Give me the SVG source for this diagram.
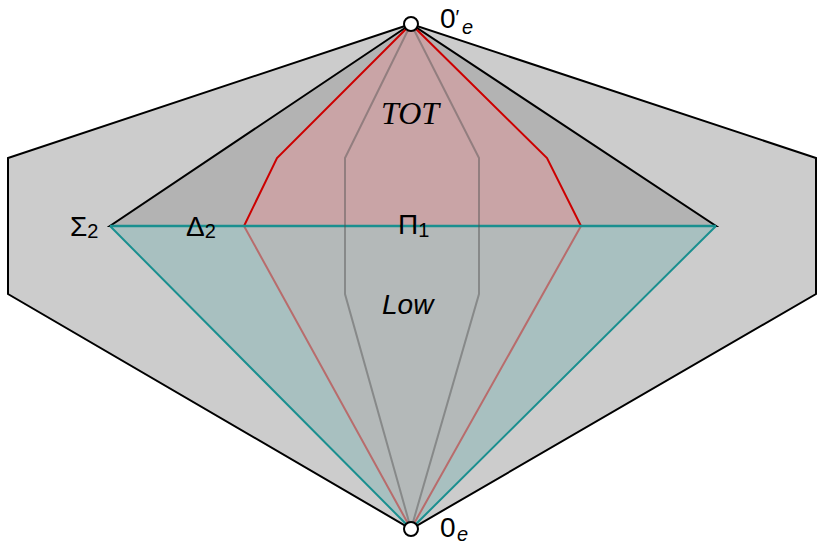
<svg xmlns="http://www.w3.org/2000/svg" width="818" height="545" viewBox="0 0 818 545">
<style>
.lbl{font-family:"Liberation Sans",Arial,sans-serif;font-size:28px;fill:#000}
.sub{font-size:20px}
.it{font-style:italic}
</style>
<rect width="818" height="545" fill="#ffffff"/>
<g id="outer">
<polygon points="411,24 8,158 8,294 411,529 816,294 816,158" fill="#cccccc" stroke="#000" stroke-width="2" stroke-linejoin="miter"/>
</g>
<g id="sigma2">
<polygon points="411,24 110,226 716,226" fill="#b3b3b3" stroke="#000" stroke-width="2"/>
<polygon points="110,226 716,226 411,529" fill="#a8c0c0"/>
</g>
<g id="tot">
<polygon points="411,24 277,158 244,226 581,226 547,158" fill="#c9a4a6" stroke="#cc0000" stroke-width="2"/>
</g>
<g id="low">
<polygon points="244,226 581,226 411,529" fill="#b4b9b9"/>
</g>
<g id="connectors" fill="none">
<polyline points="244,226 411,529 581,226" stroke="#b86c6c" stroke-width="2"/>
<polyline points="110,226 411,529 716,226" stroke="#1a8f8f" stroke-width="2"/>
<line x1="110" y1="226" x2="716" y2="226" stroke="#1a8f8f" stroke-width="2.5"/>
<polygon points="411,24 345,158 345,294 411,529 479,294 479,158" stroke="#505050" stroke-opacity="0.45" stroke-width="2"/>
</g>
<g id="n0e_top">
<circle cx="411" cy="24" r="7" fill="#fff" stroke="#000" stroke-width="2"/>
<text class="lbl" x="440" y="28">0<tspan font-size="20" dx="0" dy="-4">′</tspan></text>
<text class="lbl it sub" x="462" y="34">e</text>
</g>
<g id="n0e_bottom">
<circle cx="411" cy="529" r="7" fill="#fff" stroke="#000" stroke-width="2"/>
<text class="lbl" x="440" y="537">0</text>
<text class="lbl it sub" x="457" y="541">e</text>
</g>
<g id="labels">
<text class="lbl" x="70" y="236">Σ<tspan class="sub" dy="2">2</tspan></text>
<text class="lbl" x="186" y="236">Δ<tspan class="sub" dy="2">2</tspan></text>
<text class="lbl" x="398" y="234">Π<tspan class="sub" dy="3">1</tspan></text>
<text x="381" y="124" font-family="'Liberation Serif','DejaVu Serif',serif" font-style="italic" font-size="32" fill="#000">TOT</text>
<text class="lbl it" x="382" y="314">Low</text>
</g>
</svg>
